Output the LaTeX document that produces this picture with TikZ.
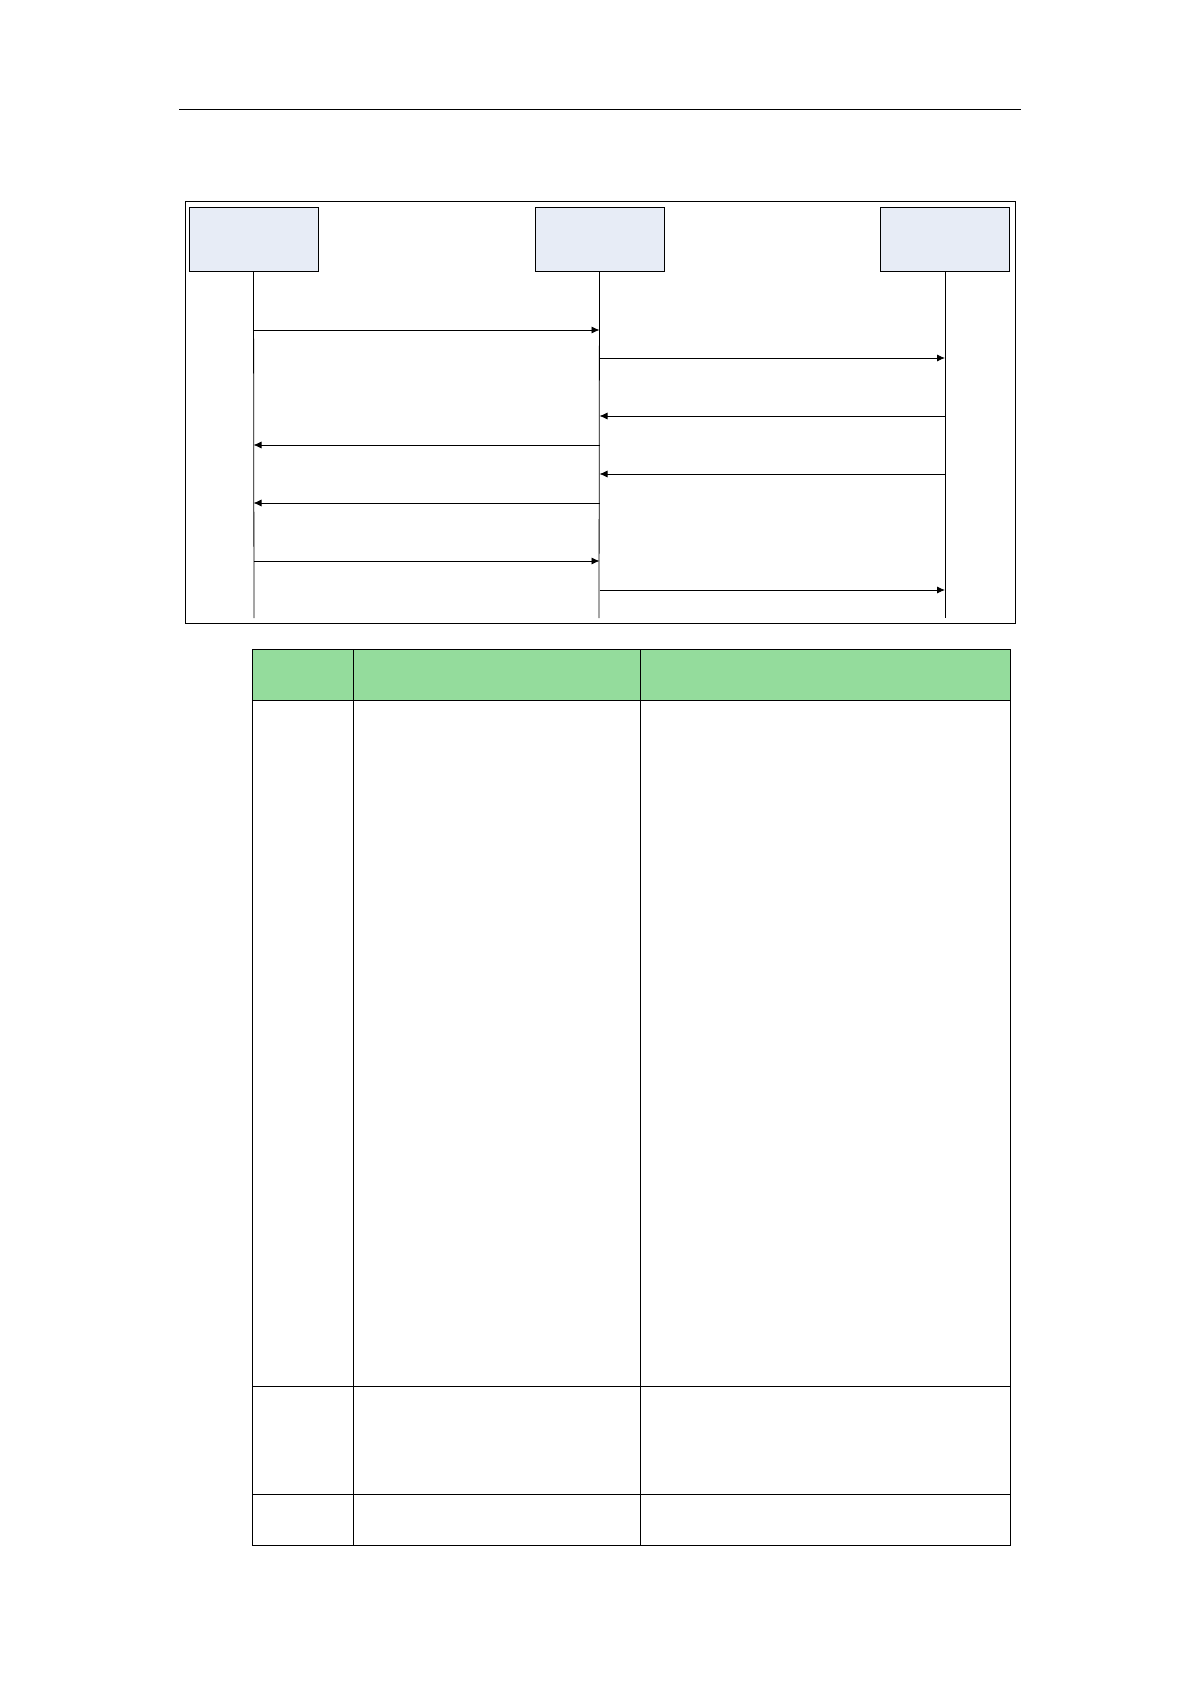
\documentclass[tikz,border=0pt]{standalone}
\usetikzlibrary{arrows.meta}
\definecolor{boxblue}{RGB}{231,236,246}
\definecolor{headgreen}{RGB}{148,220,156}
\begin{document}
\begin{tikzpicture}[x=1pt,y=-1pt,line width=0.8pt,
    actor/.style={draw,fill=boxblue,minimum width=129pt,minimum height=64pt,inner sep=0pt},
    msg/.style={-{Latex[length=8pt,width=7pt]}}]
            \useasboundingbox (0,0) rectangle (1191,1684);
            \draw[line width=0.6pt] (179,109) -- (1021,109);
            \draw (185,201) rectangle (1015,623);

            \node[actor] (A) at (253.5,239) {};
            \node[actor] (B) at (599.5,239) {};
            \node[actor] (C) at (945,239) {};

            \coordinate (A_end) at (254,618);
            \coordinate (B_end) at (599,618);
            \coordinate (C_end) at (945,618);
            \draw (A.south) -- (A_end);
            \draw (B.south) -- (B_end);
            \draw (C.south) -- (C_end);

            \foreach \y/\s/\t in {330/A/B,358/B/C,416/C/B,445/B/A,474/C/B,503/B/A,561/A/B,590/B/C}{
                \coordinate (s\y) at (\s.south |- 0,\y);
                \coordinate (t\y) at (\t.south |- 0,\y);
                \draw[msg] (s\y) -- (t\y);
            }

            % table
            \fill[headgreen] (252,649) rectangle (1010,700);
            \draw (252,649) rectangle (1010,1545);
            \draw (353,649) -- (353,1545);
            \draw (640,649) -- (640,1545);
            \foreach \y in {700,1386,1494}
                \draw (252,\y) -- (1010,\y);
        \end{tikzpicture}
\end{document}
